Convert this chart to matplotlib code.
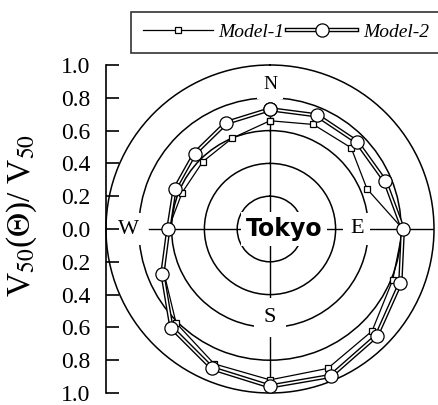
import numpy as np
import matplotlib
matplotlib.use("Agg")
import matplotlib.pyplot as plt
from matplotlib.lines import Line2D
from matplotlib.legend_handler import HandlerTuple

plt.rcParams["font.family"] = ["Liberation Serif", "DejaVu Serif"]
plt.rcParams["mathtext.fontset"] = "stix"

# Sixteen compass directions, clockwise from north
directions = ["N", "NNE", "NE", "ENE", "E", "ESE", "SE", "SSE",
              "S", "SSW", "SW", "WSW", "W", "WNW", "NW", "NNW"]
model1 = [0.66, 0.69, 0.70, 0.64, 0.81, 0.81, 0.88, 0.92,
          0.92, 0.89, 0.81, 0.70, 0.62, 0.58, 0.58, 0.60]
model2 = [0.73, 0.75, 0.75, 0.76, 0.81, 0.86, 0.92, 0.97,
          0.96, 0.92, 0.85, 0.71, 0.62, 0.63, 0.65, 0.70]
ring_levels = [0.2, 0.4, 0.6, 0.8]
scale_ticks = [-1.0, -0.8, -0.6, -0.4, -0.2, 0.0, 0.2, 0.4, 0.6, 0.8, 1.0]

W, H = 439, 405
fig = plt.figure(figsize=(W / 100, H / 100), dpi=100)

# square plotting region centred on the rose
cx, cy, R = 270, 229, 164
rect = [(cx - R) / W, (H - cy - R) / H, 2 * R / W, 2 * R / H]

ax = fig.add_axes(rect, projection="polar")
ax.set_theta_zero_location("N")
ax.set_theta_direction(-1)
ax.set_ylim(0, 1.0)
ax.set_rticks(ring_levels)
ax.set_yticklabels([])
ax.set_xticks([])
ax.yaxis.grid(True, color="black", lw=1.1, ls="-")
ax.xaxis.grid(False)
ax.spines["polar"].set_linewidth(1.1)
ax.set_facecolor("none")

# compass cross
ax.plot([0, 0], [0.72, 0], color="k", lw=1.0, zorder=1)
ax.plot([np.pi, np.pi], [0, 1.0], color="k", lw=1.0, zorder=1)
ax.plot([np.pi / 2, np.pi / 2], [0, 1.0], color="k", lw=1.0, zorder=1)
ax.plot([3 * np.pi / 2, 3 * np.pi / 2], [0, 0.74], color="k", lw=1.0, zorder=1)

theta = np.deg2rad(22.5 * np.arange(len(directions)))
th = np.append(theta, theta[0])
m1 = np.append(model1, model1[0])
m2 = np.append(model2, model2[0])

ax.plot(th, m1, color="k", lw=0.9, marker="s", ms=5, mfc="white",
        mec="k", mew=0.9, zorder=5, clip_on=False)
ax.plot(th, m2, color="k", lw=3.2, zorder=6, clip_on=False,
        solid_joinstyle="miter")
ax.plot(th, m2, color="white", lw=1.2, zorder=7, clip_on=False)
ax.plot(th, m2, ls="none", marker="o", ms=9.5, mfc="white", mec="k",
        mew=0.9, zorder=8, clip_on=False)

box = dict(boxstyle="square,pad=0.3", fc="white", ec="none")
ax.text(0, 0.88, "N", fontsize=14, ha="center", va="center", zorder=3,
        bbox=box)
ax.text(np.pi / 2, 0.53, "E", fontsize=16, ha="center", va="center",
        zorder=3, bbox=box)
ax.text(np.pi, 0.54, "S", fontsize=16, ha="center", va="center", zorder=3,
        bbox=dict(boxstyle="square,pad=0.45", fc="white", ec="none"))
ax.text(3 * np.pi / 2, 0.86, "W", fontsize=16, ha="center", va="center",
        zorder=3, bbox=box)
ax.text(np.deg2rad(90), 0.085, "Tokyo", fontsize=17, fontweight="bold",
        family="DejaVu Sans", ha="center", va="center", zorder=3,
        bbox=dict(boxstyle="square,pad=0.2", fc="white", ec="none"))

# linear scale along the left edge
sax = fig.add_axes(rect)
sax.set_ylim(-1.0, 1.0)
sax.set_xlim(0, 1)
sax.patch.set_visible(False)
for side in ("top", "right", "bottom"):
    sax.spines[side].set_visible(False)
sax.spines["left"].set_linewidth(1.2)
sax.set_xticks([])
sax.set_yticks(scale_ticks)
sax.set_yticklabels(["%.1f" % abs(v) for v in scale_ticks])
sax.tick_params(axis="y", direction="in", length=9, width=1.2, pad=11,
                labelsize=17)

fig.text(22 / W, 1 - 216 / H, r"V$_{50}$($\Theta$)/ V$_{50}$",
         rotation=90, ha="center", va="center", fontsize=24)

h1 = Line2D([], [], color="k", lw=0.9, marker="s", ms=5, mfc="white",
            mec="k", mew=0.9)
hb = Line2D([], [], color="k", lw=3.2)
hw = Line2D([], [], color="white", lw=1.2)
hm = Line2D([], [], ls="none", marker="o", ms=9.5, mfc="white", mec="k",
            mew=0.9)
leg = fig.legend([h1, (hb, hw, hm)], ["Model-1", "Model-2"],
                 handler_map={tuple: HandlerTuple(ndivide=1)},
                 loc="upper left", bbox_to_anchor=(131 / W, 1 - 12 / H),
                 bbox_transform=fig.transFigure, borderaxespad=0,
                 ncol=2, numpoints=1, handlelength=3.6, handletextpad=0.3,
                 columnspacing=0.15, borderpad=0.6, fancybox=False,
                 prop=dict(family="Liberation Serif", style="italic", size=14))
leg.get_frame().set_edgecolor("black")
leg.get_frame().set_linewidth(1.2)

fig.savefig("out.png", dpi=100)
